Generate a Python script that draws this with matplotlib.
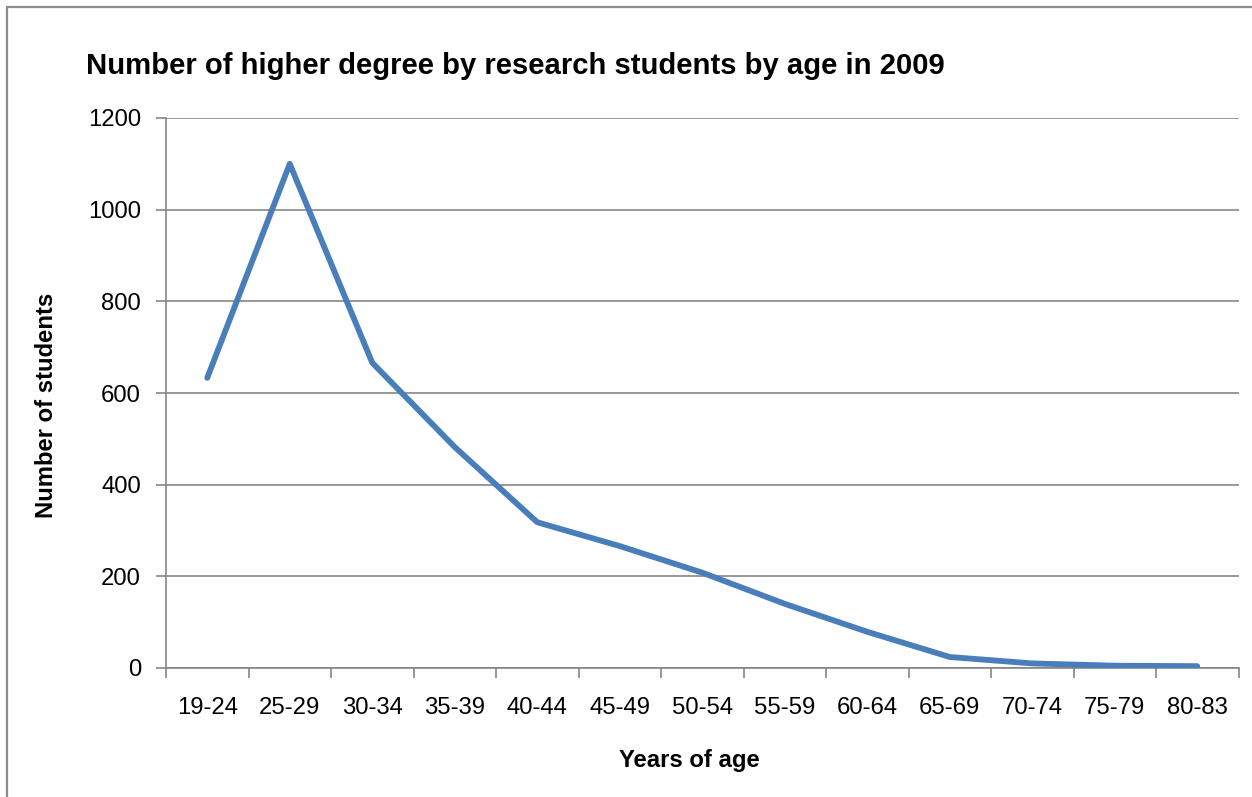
import numpy as np
import matplotlib.pyplot as plt
from matplotlib.patches import Rectangle

plt.rcParams['font.family'] = ['Liberation Sans', 'DejaVu Sans']

# data
age_groups = ['19-24', '25-29', '30-34', '35-39', '40-44', '45-49', '50-54',
              '55-59', '60-64', '65-69', '70-74', '75-79', '80-83']
students = [633, 1100, 666, 482, 318, 266, 208, 140, 79, 24, 10, 5, 4]
y_ticks = [0, 200, 400, 600, 800, 1000, 1200]

W, H = 1252, 797
fig = plt.figure(figsize=(W / 100, H / 100), dpi=100)

# chart frame (extends past the right/bottom edge like the original screenshot)
fig.patches.append(Rectangle((7 / W, -0.05), 1.2, 1 - 7 / H + 0.05,
                             transform=fig.transFigure, fill=False,
                             edgecolor='#8c8c8c', linewidth=1.6))

ax = fig.add_axes([166 / W, 1 - 668 / H, (1238.5 - 166) / W, (668 - 118) / H])
x = np.arange(len(age_groups))
ax.plot(x, students, color='#4a7ebb', linewidth=4.2,
        solid_capstyle='round', solid_joinstyle='round', zorder=3)

ax.set_xlim(-0.5, len(age_groups) - 0.5)
ax.set_ylim(0, 1200)
ax.set_yticks(y_ticks)
ax.set_yticklabels([str(v) for v in y_ticks], fontsize=17.2)

# tick marks between categories, labels at centres
ax.set_xticks(np.arange(-0.5, len(age_groups), 1.0))
ax.set_xticklabels([])
ax.set_xticks(x, minor=True)
ax.set_xticklabels(age_groups, minor=True, fontsize=17.2)
ax.tick_params(axis='x', which='major', length=7, width=1.2, color='#868686')
ax.tick_params(axis='x', which='minor', length=0, pad=21)
ax.tick_params(axis='y', length=7, width=1.2, color='#868686', pad=11)

ax.grid(axis='y', color='#868686', linewidth=1.2)
ax.set_axisbelow(True)
for side in ['top', 'right']:
    ax.spines[side].set_visible(False)
for side in ['left', 'bottom']:
    ax.spines[side].set_color('#868686')
    ax.spines[side].set_linewidth(1.2)

fig.text(86 / W, 1 - 66 / H, 'Number of higher degree by research students by age in 2009',
         fontsize=21.1, fontweight='bold', ha='left', va='center')
fig.text(47 / W, 1 - 405 / H, 'Number of students', fontsize=17.2, fontweight='bold',
         rotation=90, ha='center', va='center')
fig.text(689 / W, 1 - 761 / H, 'Years of age', fontsize=17.2, fontweight='bold',
         ha='center', va='center')

fig.savefig('out.png', dpi=100, facecolor='white')
